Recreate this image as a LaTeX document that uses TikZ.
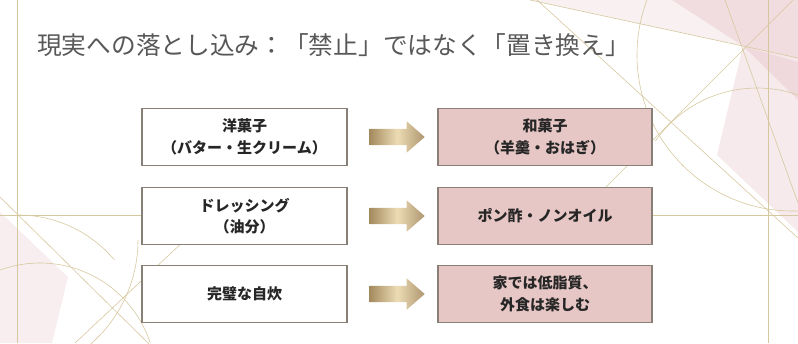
\documentclass[tikz,border=0pt]{standalone}
\usepackage{fontspec}
\usepackage{xcolor}
\usepackage{tikz}
\usetikzlibrary{arrows.meta, positioning, shapes.arrows, calc}
\newfontfamily\jpfont{Noto Sans CJK JP}
\definecolor{titlegray}{RGB}{88,88,88}
\definecolor{boxline}{RGB}{136,127,118}
\definecolor{boxpink}{RGB}{230,199,197}
\definecolor{textdark}{RGB}{38,38,38}
\definecolor{golddark}{RGB}{165,138,95}
\definecolor{goldlight}{RGB}{236,220,180}
\definecolor{decogold}{RGB}{214,200,158}
\definecolor{decopink}{RGB}{226,186,192}

\begin{document}
\begin{tikzpicture}[x=1pt, y=-1pt,
    srcbox/.style={draw=boxline, line width=1.1pt, fill=white, minimum width=205pt,
      minimum height=57pt, align=center, text=textdark,
      font=\jpfont\bfseries\fontsize{15}{21.5}\selectfont},
    dstbox/.style={srcbox, fill=boxpink, minimum width=214pt},
    fatarrow/.style={single arrow, draw=none, minimum height=55pt, inner sep=8pt,
      single arrow head extend=7.5pt, single arrow tip angle=82,
      left color=golddark, right color=golddark!90!white, middle color=goldlight},
    deco/.style={draw=decogold, line width=0.6pt}]
  \useasboundingbox (0,0) rectangle (798,343);

  % Background shapes
  \begin{scope}
    \clip (0,0) rectangle (798,343);
    \fill[decopink, opacity=0.22] (530,0) -- (798,0) -- (798,58) -- (743,46) -- cycle;
    \fill[decopink, opacity=0.35] (672,0) -- (798,0) -- (798,100) -- (743,46) -- cycle;
    \fill[decopink, opacity=0.3] (743,46) -- (798,62) -- (798,232) -- (717,155) -- cycle;
    \fill[decopink, opacity=0.25] (0,212) -- (68,277) -- (52,343) -- (0,343) -- cycle;

    \draw[deco] (17,0) -- (17,343);
    \draw[deco] (768,0) -- (768,343);
    \draw[deco] (0,215) -- (142,215);
    \draw[deco] (652,215) -- (798,215);
    \draw[deco] (0,197) -- (150,345);
    \draw[deco] (75,343) -- (185,240);
    \draw[deco] (530,0) -- (743,46) -- (798,58);
    \draw[deco] (537,0) -- (798,238);
    \draw[deco] (793,0) -- (605,188);
    \draw[deco] (725,0) -- (798,203);
    \draw[deco] (793,55) circle[radius=156];
    \draw[deco] (655.4,140.9) arc[start angle=215, end angle=290, radius=124];
    \draw[deco] (138,240) arc[start angle=0, end angle=50, radius=138];
    \draw[deco] (0.3,270) arc[start angle=-110, end angle=-18, radius=116];
    \draw[deco] (18,215) arc[start angle=-90, end angle=-40, radius=126];
  \end{scope}

  % Title
  \node[anchor=west, inner sep=0pt, text=titlegray, font=\jpfont\fontsize{24.7}{28}\selectfont]
    (title) at (37,45) {現実への落とし込み：「禁止」ではなく「置き換え」};

  % Before
  \node[srcbox] (src1) at (244.5,137) {洋菓子\\（バター・生クリーム）};
  \node[srcbox] (src2) at (244.5,216) {ドレッシング\\（油分）};
  \node[srcbox] (src3) at (244.5,294) {完璧な自炊};

  % After
  \node[dstbox] (dst1) at (545,137) {和菓子\\（羊羹・おはぎ）};
  \node[dstbox] (dst2) at (545,216) {ポン酢・ノンオイル};
  \node[dstbox] (dst3) at (545,294) {家では低脂質、\\外食は楽しむ};

  % Arrows
  \foreach \i in {1,2,3}
    \node[fatarrow] (arr\i) at ($(src\i.east)!0.5!(dst\i.west)$) {};
\end{tikzpicture}
\end{document}
